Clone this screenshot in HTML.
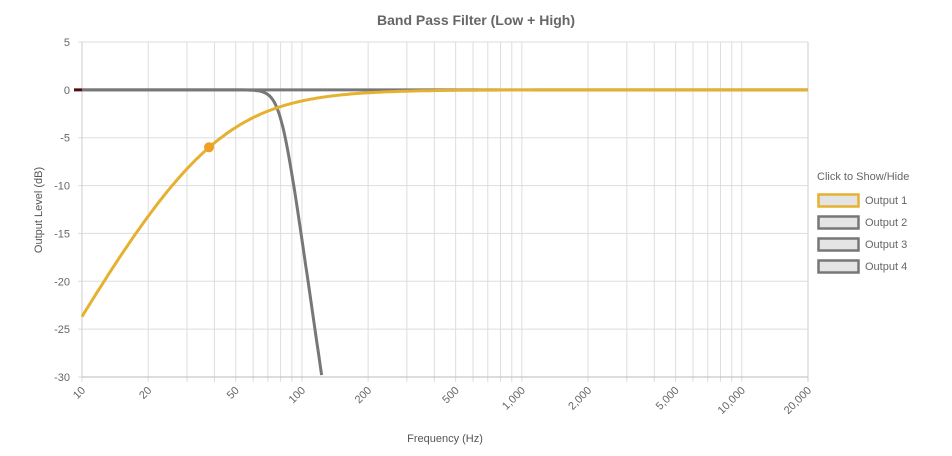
<!DOCTYPE html><html><head><meta charset="utf-8"><style>
body{margin:0;background:#fff;width:952px;height:451px;overflow:hidden;font-family:"Liberation Sans",sans-serif}
</style></head><body>
<svg id="s" width="952" height="451" xmlns="http://www.w3.org/2000/svg"></svg>
<script>
const s=document.getElementById('s');let h='';
const X0=82,X1=808,Y0=42,Y1=377;
const px=f=>X0+(Math.log10(f)-1)/Math.log10(2000)*(X1-X0);
const py=d=>Y0+(5-d)/35*(Y1-Y0);
h+=`<text x="476" y="25" text-anchor="middle" font-size="14" font-weight="bold" fill="#666">Band Pass Filter (Low + High)</text>`;
for(let dec=10;dec<=10000;dec*=10)for(let m=1;m<=9;m++){const f=dec*m;if(f>20000)break;const x=px(f);h+=`<line x1="${x}" y1="${Y0}" x2="${x}" y2="${Y1+5}" stroke="#ddd"/>`;}
h+=`<line x1="${X1}" y1="${Y0}" x2="${X1}" y2="${Y1+5}" stroke="#ccc"/>`;
for(let d=5;d>=-30;d-=5){const y=py(d);h+=`<line x1="${X0-4}" y1="${y}" x2="${X1}" y2="${y}" stroke="#ddd"/><text x="70" y="${y+4}" text-anchor="end" font-size="11" fill="#666">${d}</text>`;}
h+=`<line x1="${X0}" y1="${Y0}" x2="${X0}" y2="${Y1}" stroke="#ccc"/><line x1="${X0}" y1="${Y1}" x2="${X1}" y2="${Y1}" stroke="#bbb"/>`;
[[10,'10'],[20,'20'],[50,'50'],[100,'100'],[200,'200'],[500,'500'],[1000,'1,000'],[2000,'2,000'],[5000,'5,000'],[10000,'10,000'],[20000,'20,000']].forEach(([f,t])=>{const x=px(f);h+=`<text transform="translate(${x+4},${Y1+14}) rotate(-45)" text-anchor="end" font-size="11" fill="#666">${t}</text>`;});
h+=`<text x="445" y="442" text-anchor="middle" font-size="11" fill="#555">Frequency (Hz)</text>`;
h+=`<text transform="translate(42,210) rotate(-90)" text-anchor="middle" font-size="11" fill="#555">Output Level (dB)</text>`;
h+=`<line x1="74" y1="${py(0)}" x2="${X0}" y2="${py(0)}" stroke="#5a0a0a" stroke-width="3"/>`;
h+=`<line x1="${X0}" y1="${py(0)}" x2="${X1}" y2="${py(0)}" stroke="#777" stroke-width="3"/>`;
let lp='',hp='';
for(let i=0;i<=600;i++){const f=10*Math.pow(2000,i/600);
 let d=-10*Math.log10(1+Math.pow(f/80,16));if(d>=-30.5)lp+=(lp?'L':'M')+px(f).toFixed(1)+','+py(Math.max(d,-30)).toFixed(1);
 const r=(f/37.8)**2;const e=20*Math.log10(r/(1+r));hp+=(hp?'L':'M')+px(f).toFixed(1)+','+py(e).toFixed(1);}
h+=`<path d="${lp}" fill="none" stroke="#777" stroke-width="3"/>`;
h+=`<path d="${hp}" fill="none" stroke="#e6b030" stroke-width="3"/>`;
h+=`<circle cx="209" cy="${py(-6)}" r="5" fill="#f0a020"/>`;
h+=`<text x="817" y="180" font-size="11" fill="#666">Click to Show/Hide</text>`;
['Output 1','Output 2','Output 3','Output 4'].forEach((t,i)=>{const y=194+i*22;h+=`<rect x="818.5" y="${y+0.5}" width="40" height="12" fill="#e4e4e4" stroke="${i?'#777':'#e6b030'}" stroke-width="2.5"/><text x="865" y="${y+10}" font-size="11" fill="#666">${t}</text>`;});
s.innerHTML=h;
</script></body></html>
